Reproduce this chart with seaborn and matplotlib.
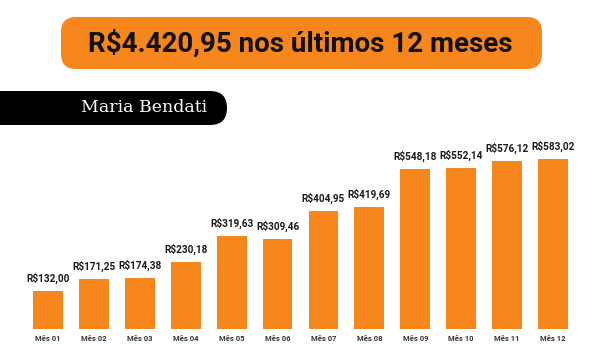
import matplotlib
matplotlib.use("Agg")
import matplotlib.pyplot as plt
from matplotlib.patches import FancyBboxPatch
import seaborn as sns
import pandas as pd

months = ["Mês 01", "Mês 02", "Mês 03", "Mês 04", "Mês 05", "Mês 06",
          "Mês 07", "Mês 08", "Mês 09", "Mês 10", "Mês 11", "Mês 12"]
values = [132.00, 171.25, 174.38, 230.18, 319.63, 309.46,
          404.95, 419.69, 548.18, 552.14, 576.12, 583.02]
title_text = "R$4.420,95 nos últimos 12 meses"
name_text = "Maria Bendati"

ORANGE = "#F7861D"

sns.set_theme(style="white")
plt.rcParams['font.family'] = ['Roboto', 'DejaVu Sans']

df = pd.DataFrame({"mes": months, "valor": values})

fig = plt.figure(figsize=(6.0, 3.55), dpi=100)
fig.patch.set_facecolor("white")
ax = fig.add_axes([25/600, 26/355, 551/600, 189.5/355])

sns.barplot(data=df, x="mes", y="valor", color=ORANGE, saturation=1,
            width=0.65, ax=ax)
for p in ax.patches:
    p.set_edgecolor("none")

ax.set_xlim(-0.5, len(months) - 0.5)
ax.set_ylim(0, 650)
for s in ax.spines.values():
    s.set_visible(False)
ax.set_yticks([])
ax.set_xlabel("")
ax.set_ylabel("")
ax.tick_params(axis="x", length=0, pad=4, labelsize=5.5, labelcolor="#333333")
for t in ax.get_xticklabels():
    t.set_fontweight("bold")

def fmt(v):
    s = f"{v:,.2f}"
    s = s.replace(",", "X").replace(".", ",").replace("X", ".")
    return "R$" + s

ax.bar_label(ax.containers[0], labels=[fmt(v) for v in values], padding=5,
             fontsize=7.2, fontweight="bold", color="#1a1a1a", clip_on=False)

# Title box
box = FancyBboxPatch((0.61, 2.86), 4.81, 0.52,
                     boxstyle="round,pad=0,rounding_size=0.15",
                     transform=fig.dpi_scale_trans, facecolor=ORANGE,
                     edgecolor="none")
fig.add_artist(box)
fig.text(3.0, 3.115, title_text, transform=fig.dpi_scale_trans,
         ha="center", va="center", fontsize=20, fontweight="bold",
         color="#111111")

# Name pill
pill = FancyBboxPatch((-0.3, 2.30), 2.57, 0.34,
                      boxstyle="round,pad=0,rounding_size=0.17",
                      transform=fig.dpi_scale_trans, facecolor="black",
                      edgecolor="none")
fig.add_artist(pill)
fig.text(1.44, 2.475, name_text, transform=fig.dpi_scale_trans,
         ha="center", va="center", fontsize=12.5, color="white",
         family=["DejaVu Serif"])

fig.savefig("out.png", dpi=100)
